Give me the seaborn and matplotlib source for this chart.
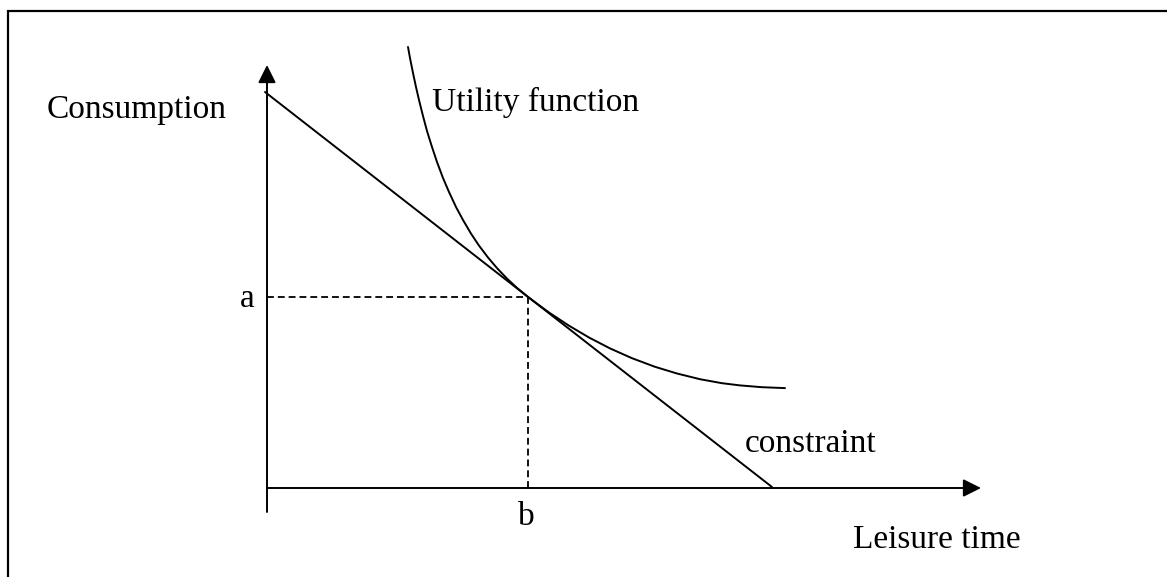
import numpy as np
import pandas as pd
import matplotlib.pyplot as plt
import seaborn as sns
from matplotlib.patches import Rectangle

# diagram values (origin = where the two axes meet)
constraint_x = [-2, 505]
constraint_y = [396, 1]

utility_x = [141, 143, 146, 149, 152, 156, 160, 165, 170, 176, 182, 189,
             196, 204, 212, 221, 230, 240, 250, 261, 282, 302, 322, 343,
             365, 388, 410, 433, 455, 473, 495, 518]
utility_y = [441, 430, 415, 401, 388, 372, 357, 341, 326, 310, 296, 281,
             268, 254.4, 242.4, 230.5, 219.9, 209.4, 200.1, 191, 175.5,
             162.3, 150.5, 139.6, 129.8, 121.2, 114.5, 108.8, 104.8,
             102.6, 100.8, 99.9]

tangent_x, tangent_y = 261, 191
yaxis_range = [-24, 423]
xaxis_range = [0, 714]

labels = {
    'Consumption': (-220, 370, 'left'),
    'Utility function': (165, 377, 'left'),
    'a': (-20, 181, 'center'),
    'b': (259, -37, 'center'),
    'constraint': (478, 36, 'left'),
    'Leisure time': (754, -60, 'right'),
}

sns.set_style('white')
plt.rcParams['font.family'] = ['Liberation Serif', 'DejaVu Serif']

fig = plt.figure(figsize=(11.67, 5.77), dpi=100)
ax = fig.add_axes([0, 0, 1, 1])
ax.set_xlim(-267, 900)
ax.set_ylim(-89, 488)
ax.axis('off')

# page frame (only top and left edges are inside the crop)
ax.add_patch(Rectangle((-259.5, -200), 2000, 677.5, fill=False,
                       lw=1.6, edgecolor='black'))

# axes with arrow heads
arrow = dict(arrowstyle='-|>,head_length=0.4,head_width=0.2', lw=1.4,
             color='black', mutation_scale=27, shrinkA=0, shrinkB=0)
ax.annotate('', xy=(0, yaxis_range[1]), xytext=(0, yaxis_range[0]), arrowprops=arrow)
ax.annotate('', xy=(xaxis_range[1], 0), xytext=(xaxis_range[0], 0), arrowprops=arrow)

constraint = pd.DataFrame({'x': constraint_x, 'y': constraint_y})
utility = pd.DataFrame({'x': utility_x, 'y': utility_y})
sns.lineplot(data=constraint, x='x', y='y', color='black', lw=1.4, ax=ax)
sns.lineplot(data=utility, x='x', y='y', color='black', lw=1.4, sort=False, ax=ax)

# dashed guides to the tangency point
ax.plot([0, tangent_x], [tangent_y, tangent_y], color='black', lw=1.3,
        linestyle=(0, (3.8, 2.2)))
ax.plot([tangent_x, tangent_x], [tangent_y, 0], color='black', lw=1.3,
        linestyle=(0, (3.8, 2.2)))

for text, (x, y, ha) in labels.items():
    ax.text(x, y, text, fontsize=24, ha=ha, va='baseline', color='black')

plt.savefig('out.png', dpi=100)
plt.close()
